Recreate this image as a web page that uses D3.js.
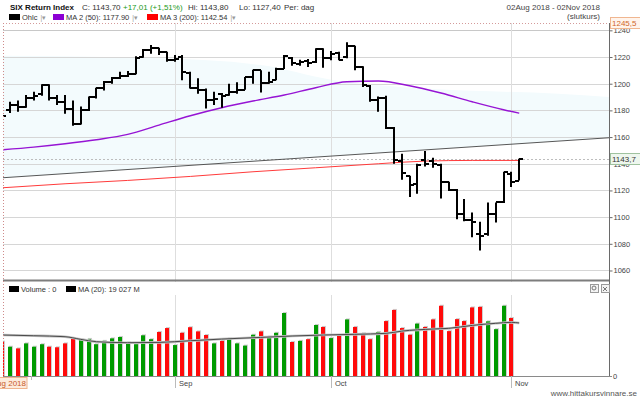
<!DOCTYPE html>
<html>
<head>
<meta charset="utf-8">
<script src="https://cdn.jsdelivr.net/npm/d3@7"></script>
<style>
  body { margin: 0; background: #fff; }
  svg text { font-family: "Liberation Sans", Arial, sans-serif; }
</style>
</head>
<body>
<svg id="chart" width="640" height="398"></svg>
<script>
// daily bars 02 Aug 2018 - 02 Nov 2018 (index 0..66)
const opens = [1181,1180,1184,1182.5,1189,1192,1199,1189,1186.5,1181,1170,1180,1190,1196.5,1201.5,1204.5,1206,1207.5,1220,1225,
  1226.5,1223.5,1217.5,1220,1208,1196.5,1195,1187.5,1192,1191.5,1194,1195.5,1205,1210,1200.5,1202.5,1211,1219.5,1215,1217,
  1216,1226,1219,1223,1220,1228,1212.5,1198.5,1187.5,1189.5,1167,1142,1130.5,1124.5,1143,1142,1139,1126,1120,1102.5,
  1098,1087,1087,1102.5,1111,1132,1127.4];
const highs = [1186,1186.5,1187.5,1191.5,1194,1199.5,1199.5,1191.5,1191.5,1187.5,1183,1190.5,1197,1202,1205,1209,1209.5,1220.5,1226,1229,
  1227,1224,1221.5,1221.5,1209,1204,1196.5,1194,1193,1200,1201,1205,1210.5,1210,1209,1212,1221.5,1220,1218,1218.5,
  1226.5,1226.5,1224.5,1224,1231,1228.5,1213,1199,1190.5,1191,1167.5,1147.5,1131,1140,1149.5,1144.5,1140,1126.5,1121,1113.5,
  1103.5,1096.5,1111,1111,1134,1134,1143.8];
const lows = [1172,1178,1179,1182,1187.5,1191,1187.5,1184,1177.5,1168.5,1169.5,1179.5,1189,1195,1200,1203.5,1205,1207,1219.5,1222.5,
  1221.5,1216.5,1216.5,1202.5,1196.5,1192.5,1181.5,1184,1182,1191,1192.5,1195.5,1200,1193.5,1200,1202.5,1211,1213.5,1213.5,1212.5,
  1215.5,1212,1217.5,1217.5,1219,1210,1197.5,1186.5,1179,1166,1140,1128,1115,1117.5,1138,1137,1114,1119.5,1098.5,1097,
  1085,1075,1086,1096,1110.5,1122.5,1127.4];
const closes = [1176,1184,1182.5,1189.5,1190.5,1199,1189.5,1186.5,1181,1170,1180,1190,1196.5,1201.5,1204.5,1206,1207,1219.5,1225,1227,
  1223.5,1217.5,1218.5,1209,1197,1195.5,1187.5,1188.5,1190.5,1194,1195,1205,1210,1200.5,1201.5,1211,1220.5,1215.5,1216,1215.5,
  1226,1219,1222.5,1218,1228,1212.5,1199,1187.5,1189.5,1167,1142.5,1133,1124,1139,1140,1139.5,1126,1120.5,1102.5,1098,
  1096,1086,1102.5,1111,1133.5,1126.69,1143.7];
// volume, MSEK
const volumes = [12300,10500,9900,11700,10500,11400,10500,10300,11700,13500,13000,13300,11400,12600,13500,14000,12000,11400,14600,13200,
  15800,17200,11100,15500,17500,16000,14700,11700,12600,13400,11700,10900,14800,16000,14100,15500,22600,12200,12600,13200,
  18300,17600,13600,14500,20300,17600,15300,13200,15800,19700,23700,17200,14800,18800,17600,20300,25200,16100,20400,19700,
  24600,24800,19600,16800,25200,20800,0];

// moving averages (bar index -> value)
const ma50Idx = [0,4,8,12,16,20,24,28,32,36,40,44,48,52,56,60,64,66];
const ma50Val = [1150.5,1152.5,1155,1158,1162,1169,1176,1182,1187,1191.5,1197,1201.5,1202,1198.5,1193,1186.5,1180.5,1177.9];
const ma200Idx = [0,8,16,24,32,40,48,54,60,66];
const ma200Val = [1122,1125,1127.5,1130.5,1134,1137,1140,1142,1142.5,1142.5];
const volMaIdx = [0,4,8,10,12,16,20,24,28,33,37,41,45,49,51,55,57,60,63,65,66];
const volMaVal = [14700,14450,14100,13150,12300,11950,12050,12650,13250,13850,14350,14700,14950,15300,16100,16850,17100,18150,18900,19250,19027];

// trend line and shaded channel top
const trendIdx = [0, 77.5];
const trendVal = [1129.5, 1159.5];
const bandIdx = [0, 20, 33, 42, 55, 71, 77.5];
const bandVal = [1221, 1219, 1214, 1203, 1196, 1192.5, 1190];

const priceTicks = [1060,1080,1100,1120,1140,1160,1180,1200,1220,1240];
const monthTicks = [{label: 'Sep', idx: 22}, {label: 'Oct', idx: 42}, {label: 'Nov', idx: 65}];
const maxPrice = 1245.5;
const lastClose = 1143.7;

const svg = d3.select('#chart');
const xL = 3, xR = 609, yTop = 23, volBase = 376;

const x = d3.scaleLinear().domain([0, 66]).range([2.4, 519.2]);
const y = d3.scaleLinear().domain([1053.25, 1245.5]).range([279.5, 23]);
const yv = d3.scaleLinear().domain([0, 28700]).range([volBase, 296]);
const trend = d3.scaleLinear().domain(trendIdx).range(trendVal);
const px = i => Math.round(x(i));

svg.append('defs').append('clipPath').attr('id', 'plot')
  .append('rect').attr('x', xL).attr('y', yTop).attr('width', xR - xL).attr('height', volBase - yTop);

const plot = svg.append('g').attr('clip-path', 'url(#plot)');

// shaded channel
plot.append('path')
  .datum(bandIdx.map((d, k) => ({i: d, v: bandVal[k]})))
  .attr('fill', '#f3fbfd')
  .attr('d', d3.area().x(d => x(d.i)).y0(d => y(trend(d.i))).y1(d => y(d.v)).curve(d3.curveMonotoneX));

// grid
plot.selectAll('.hgrid').data(priceTicks).join('line')
  .attr('x1', xL).attr('x2', xR)
  .attr('y1', d => Math.round(y(d)) + 0.5).attr('y2', d => Math.round(y(d)) + 0.5)
  .attr('stroke', d => d === 1240 ? '#c8c8c8' : '#d6d6d6');
plot.selectAll('.vgrid').data(monthTicks).join('line')
  .attr('x1', d => px(d.idx) + 0.5).attr('x2', d => px(d.idx) + 0.5)
  .attr('y1', yTop).attr('y2', volBase)
  .attr('stroke', '#dedede');

// max and last price lines
svg.append('line').attr('x1', xL).attr('x2', xR)
  .attr('y1', Math.round(y(maxPrice)) + 0.5).attr('y2', Math.round(y(maxPrice)) + 0.5)
  .attr('stroke', '#d49a9a').attr('stroke-dasharray', '1,2');
plot.append('line').attr('x1', xL).attr('x2', xR)
  .attr('y1', Math.round(y(lastClose)) + 0.5).attr('y2', Math.round(y(lastClose)) + 0.5)
  .attr('stroke', '#bdbdbd').attr('stroke-dasharray', '2,2');

// trend line
plot.append('line')
  .attr('x1', x(trendIdx[0])).attr('y1', y(trendVal[0]))
  .attr('x2', x(trendIdx[1])).attr('y2', y(trendVal[1]))
  .attr('stroke', '#444').attr('stroke-width', 0.9);

// moving averages
const maLine = d3.line().x(d => x(d.i)).y(d => y(d.v)).curve(d3.curveMonotoneX);
plot.append('path').datum(ma200Idx.map((d, k) => ({i: d, v: ma200Val[k]})))
  .attr('fill', 'none').attr('stroke', '#ff3b3b').attr('stroke-width', 1).attr('d', maLine);
plot.append('path').datum(ma50Idx.map((d, k) => ({i: d, v: ma50Val[k]})))
  .attr('fill', 'none').attr('stroke', '#9614d4').attr('stroke-width', 1.4).attr('d', maLine);

// ohlc bars
plot.selectAll('.bar').data(closes).join('path')
  .attr('class', 'bar')
  .attr('fill', 'none').attr('stroke', '#000').attr('stroke-width', 2)
  .attr('d', (c, i) => {
    const cx = px(i);
    return `M${cx},${y(highs[i])}V${y(lows[i])}` +
      `M${cx - 4},${Math.round(y(opens[i]))}H${cx}` +
      `M${cx},${Math.round(y(c))}H${cx + 4}`;
  });

// volume bars
const vol = plot.selectAll('.vol').data(volumes.slice(0, 66)).join('g');
vol.append('rect')
  .attr('x', (d, i) => px(i) - 1).attr('y', d => yv(d) - 1)
  .attr('width', 4).attr('height', d => volBase - yv(d) + 1)
  .attr('fill', '#cfcfcf');
vol.append('rect')
  .attr('x', (d, i) => px(i) - 2).attr('y', d => yv(d))
  .attr('width', 4).attr('height', d => volBase - yv(d))
  .attr('fill', (d, i) => closes[i] >= opens[i] ? '#009a00' : '#ff0a0a');

const volMaData = volMaIdx.map((d, k) => ({i: d, v: volMaVal[k]}));
const volLine = d3.line().x(d => x(d.i)).y(d => yv(d.v)).curve(d3.curveMonotoneX);
plot.append('path').datum(volMaData).attr('fill', 'none')
  .attr('stroke', '#c4c4c4').attr('stroke-width', 2.6).attr('d', volLine);
plot.append('path').datum(volMaData).attr('fill', 'none')
  .attr('stroke', '#4a4a4a').attr('stroke-width', 1).attr('d', volLine);

// panel separator
svg.append('line').attr('x1', xL).attr('x2', xR).attr('y1', 280.5).attr('y2', 280.5)
  .attr('stroke', '#7d7d7d').attr('stroke-width', 2);
svg.append('rect').attr('x', xL).attr('y', 282).attr('width', xR - xL).attr('height', 13).attr('fill', '#fff');

// left border
svg.append('line').attr('x1', 3.5).attr('x2', 3.5).attr('y1', yTop).attr('y2', 388)
  .attr('stroke', '#cf8a8a').attr('stroke-dasharray', '1,2');

// right axis
svg.append('line').attr('x1', xR + 0.5).attr('x2', xR + 0.5).attr('y1', yTop).attr('y2', volBase)
  .attr('stroke', '#6a6a6a');
const yAxis = svg.append('g').attr('transform', `translate(${xR + 0.5},0)`)
  .call(d3.axisRight(y).tickValues(priceTicks).tickSize(3).tickFormat(d3.format('d')));
yAxis.select('.domain').remove();
yAxis.selectAll('line').attr('stroke', '#6a6a6a');
yAxis.selectAll('text').attr('font-size', 7.5).attr('fill', '#444').attr('x', 4)
  .attr('font-family', '"Liberation Sans", Arial, sans-serif');
svg.append('text').attr('x', 613).attr('y', volBase + 3).attr('font-size', 7.5).attr('fill', '#444').text('0');
svg.append('line').attr('x1', xR).attr('x2', xR + 3).attr('y1', volBase + 0.5).attr('y2', volBase + 0.5).attr('stroke', '#6a6a6a');

// price labels on axis
function axisTag(v, label, fill, stroke, color) {
  const yy = Math.round(y(v));
  svg.append('rect').attr('x', 610.5).attr('y', yy - 5.5).attr('width', 30).attr('height', 11)
    .attr('fill', fill).attr('stroke', stroke);
  svg.append('text').attr('x', 612).attr('y', yy + 3).attr('font-size', 8).attr('fill', color).text(label);
}
axisTag(maxPrice, '1245,5', '#fff4ec', '#f0b690', '#d0662a');
axisTag(lastClose, '1143,7', '#eef7ee', '#9fc29f', '#333');

// x axis
svg.append('line').attr('x1', xL).attr('x2', xR + 3).attr('y1', volBase + 0.5).attr('y2', volBase + 0.5)
  .attr('stroke', '#8a8a8a');
svg.selectAll('.mtick').data(monthTicks).join('line')
  .attr('x1', d => px(d.idx) + 0.5).attr('x2', d => px(d.idx) + 0.5)
  .attr('y1', volBase).attr('y2', 388).attr('stroke', '#bbb');
svg.selectAll('.mlabel').data(monthTicks).join('text')
  .attr('x', d => px(d.idx) + 4).attr('y', 385.5)
  .attr('font-size', 7.5).attr('fill', '#444').text(d => d.label);
svg.append('line').attr('x1', 31.5).attr('x2', 31.5).attr('y1', volBase).attr('y2', 380).attr('stroke', '#bbb');
svg.append('rect').attr('x', -3).attr('y', 377.5).attr('width', 30).attr('height', 11)
  .attr('fill', '#fdebdc').attr('stroke', '#efb48e');
svg.append('text').attr('x', 26).attr('y', 386).attr('text-anchor', 'end')
  .attr('font-size', 8).attr('fill', '#c85a2a').text('Aug 2018');

// header
const headItems = [
  {x: 10, text: 'SIX Return Index', fill: '#111', bold: true},
  {x: 82, text: 'C: 1143,70', fill: '#333'},
  {x: 123, text: '+17,01 (+1,51%)', fill: '#1a9a1a'},
  {x: 188, text: 'Hi: 1143,80', fill: '#333'},
  {x: 239, text: 'Lo: 1127,40', fill: '#333'},
  {x: 284, text: 'Per: dag', fill: '#333'}
];
svg.selectAll('.head').data(headItems).join('text')
  .attr('x', d => d.x).attr('y', 9.5).attr('font-size', 8)
  .attr('font-weight', d => d.bold ? 'bold' : null)
  .attr('fill', d => d.fill).text(d => d.text);

svg.append('text').attr('x', 600).attr('y', 9.5).attr('text-anchor', 'end')
  .attr('font-size', 8).attr('fill', '#444').text('02Aug 2018 - 02Nov 2018');
svg.append('text').attr('x', 600).attr('y', 18.5).attr('text-anchor', 'end')
  .attr('font-size', 8).attr('fill', '#444').text('(slutkurs)');

const legend = [
  {x: 9, color: '#000', label: 'Ohlc'},
  {x: 53, color: '#8c00d4', label: 'MA 2 (50): 1177.90'},
  {x: 147, color: '#ff0000', label: 'MA 3 (200): 1142.54'}
];
const lg = svg.selectAll('.lg').data(legend).join('g');
lg.append('rect').attr('x', d => d.x).attr('y', 14).attr('width', 11).attr('height', 6).attr('fill', d => d.color);
lg.append('text').attr('x', d => d.x + 13).attr('y', 19.5).attr('font-size', 7.5).attr('fill', '#333').text(d => d.label)
  .each(function(d) { d.end = d.x + 13 + this.getComputedTextLength(); });
lg.append('text').attr('x', d => d.end + 3).attr('y', 19.5).attr('font-size', 6.5).attr('fill', '#999').text('|\u25BE');

// volume header
const vh = [{x: 9, label: 'Volume : 0'}, {x: 66, label: 'MA (20): 19 027 M'}];
const vg = svg.selectAll('.vh').data(vh).join('g');
vg.append('rect').attr('x', d => d.x).attr('y', 286).attr('width', 10).attr('height', 6).attr('fill', '#000');
vg.append('text').attr('x', d => d.x + 12).attr('y', 292).attr('font-size', 7.5).attr('fill', '#333').text(d => d.label);
[590, 601].forEach(bx => {
  svg.append('rect').attr('x', bx + 0.5).attr('y', 284.5).attr('width', 8).attr('height', 8)
    .attr('fill', '#f4f4f4').attr('stroke', '#9a9a9a');
});
svg.append('path').attr('d', 'M603,287L607,291M607,287L603,291').attr('stroke', '#777');
svg.append('circle').attr('cx', 594).attr('cy', 288).attr('r', 2).attr('fill', 'none').attr('stroke', '#777');

// footer
svg.append('text').attr('x', 637).attr('y', 396).attr('text-anchor', 'end')
  .attr('font-size', 8).attr('fill', '#555').text('www.hittakursvinnare.se');
</script>
</body>
</html>
